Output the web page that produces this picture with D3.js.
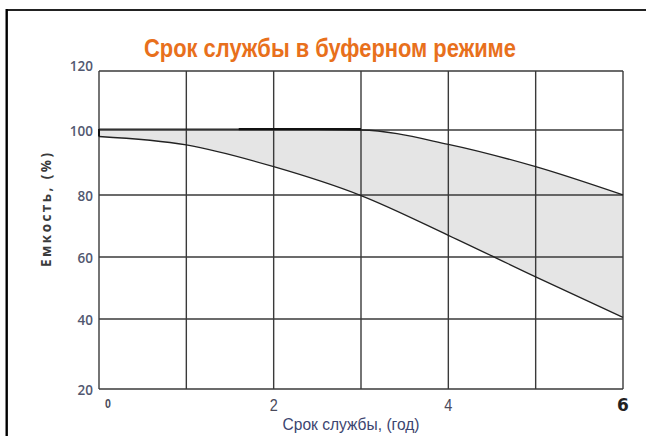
<!DOCTYPE html>
<html><head><meta charset="utf-8">
<script src="https://cdn.jsdelivr.net/npm/d3@7"></script>
<style>html,body{margin:0;padding:0;background:#fff;}svg{display:block;}</style>
</head><body>
<script>
const title = "Срок службы в буферном режиме";
const xTitle = "Срок службы, (год)";
const yTitle = "Емкость, (%)";
const xGrid = [0, 1, 2, 3, 4, 5, 6];
const xTickLabels = [0, 2, 4, 6];
const yTicks = [20, 40, 60, 80, 100, 120];
const years = [0, 1, 2, 3, 4, 5, 6];
const upperCapacity = [100.3, 100.3, 100.3, 100, 95.6, 88.7, 80];
const lowerCapacity = [98, 95.4, 88.7, 79.8, 67, 53.6, 40.5];
const boldSegment = [1.6, 3];

const W = 646, H = 436;
const svg = d3.select("body").append("svg").attr("width", W).attr("height", H);

const x = d3.scaleLinear().domain([0, 6]).range([99, 623]);
const y = d3.scaleLinear().domain(yTicks).range([389, 319, 257, 195, 130, 71]);

// outer frame
svg.append("line").attr("x1", 6.5).attr("x2", W).attr("y1", 10).attr("y2", 10)
  .attr("stroke", "#222").attr("stroke-width", 2);
svg.append("line").attr("x1", 6.7).attr("x2", 6.7).attr("y1", 9).attr("y2", H)
  .attr("stroke", "#000").attr("stroke-width", 2.4);

// title
svg.append("text").attr("x", 330).attr("y", 57)
  .attr("text-anchor", "middle")
  .attr("font-family", "'Liberation Sans Narrow', 'Liberation Sans', Arial, sans-serif")
  .attr("font-weight", "bold").attr("font-size", 25)
  .attr("fill", "#e8701c")
  .attr("textLength", 372).attr("lengthAdjust", "spacingAndGlyphs")
  .text(title);

// band
const data = years.map((t, i) => ({t, up: upperCapacity[i], lo: lowerCapacity[i]}));
const area = d3.area().x(d => x(d.t)).y0(d => y(d.lo)).y1(d => y(d.up)).curve(d3.curveMonotoneX);
svg.append("path").datum(data).attr("d", area).attr("fill", "#e5e5e5");

// grid
const g = svg.append("g");
g.selectAll(".vg").data(xGrid).enter().append("line")
  .attr("x1", d => x(d)).attr("x2", d => x(d)).attr("y1", y(120)).attr("y2", y(20))
  .attr("stroke", "#3a3a3a").attr("stroke-width", 1.4);
g.selectAll(".hg").data(yTicks).enter().append("line")
  .attr("x1", x(0)).attr("x2", x(6)).attr("y1", d => y(d)).attr("y2", d => y(d))
  .attr("stroke", "#3a3a3a").attr("stroke-width", 1.4);

// curves
const lineUp = d3.line().x(d => x(d.t)).y(d => y(d.up)).curve(d3.curveMonotoneX);
const lineLo = d3.line().x(d => x(d.t)).y(d => y(d.lo)).curve(d3.curveMonotoneX);
svg.append("path").datum(data).attr("d", lineUp).attr("fill", "none").attr("stroke", "#222").attr("stroke-width", 1.3);
svg.append("path").datum(data).attr("d", lineLo).attr("fill", "none").attr("stroke", "#222").attr("stroke-width", 1.3);
svg.append("line").attr("x1", x(boldSegment[0])).attr("x2", x(boldSegment[1]))
  .attr("y1", y(100.3)).attr("y2", y(100.3)).attr("stroke", "#111").attr("stroke-width", 2.2);
svg.append("line").attr("x1", x(0)).attr("x2", x(0)).attr("y1", y(100.3)).attr("y2", y(98))
  .attr("stroke", "#111").attr("stroke-width", 2);

// y tick labels
svg.selectAll(".yl").data(yTicks).enter().append("text")
  .attr("x", 93).attr("y", d => y(d) + (d === 120 ? -4 : 2))
  .attr("text-anchor", "end").attr("dominant-baseline", "middle")
  .attr("font-family", "'Open Sans', 'DejaVu Sans', sans-serif").attr("font-weight", "600")
  .attr("font-size", 13.5).attr("fill", "#525870")
  .text(d => d);

// y title
svg.append("text")
  .attr("transform", "translate(51,210) rotate(-90)")
  .attr("text-anchor", "middle")
  .attr("font-family", "'Open Sans', 'DejaVu Sans', sans-serif").attr("font-weight", "bold")
  .attr("font-size", 13.5).attr("fill", "#3a3a3a")
  .attr("textLength", 114).attr("lengthAdjust", "spacing")
  .text(yTitle);

// x tick labels
svg.selectAll(".xl").data(xTickLabels).enter().append("text")
  .attr("x", d => d === 0 ? x(d) + 9 : x(d))
  .attr("y", d => d === 0 ? 408 : 411)
  .attr("text-anchor", "middle")
  .attr("font-family", d => d === 6 ? "'DejaVu Sans', sans-serif" : "'Liberation Sans Narrow', 'Liberation Sans', sans-serif")
  .attr("font-weight", d => (d === 6 || d === 0) ? "bold" : "normal")
  .attr("font-size", d => d === 0 ? 12.5 : 17)
  .attr("fill", d => d === 6 ? "#222" : "#4a4a5a")
  .attr("transform", d => d === 6 ? null : `translate(${d === 0 ? x(d) + 9 : x(d)},0) scale(0.85,1) translate(${-(d === 0 ? x(d) + 9 : x(d))},0)`)
  .text(d => d);

// x title
svg.append("text").attr("x", 351).attr("y", 430)
  .attr("text-anchor", "middle")
  .attr("font-family", "'Liberation Sans Narrow', 'Liberation Sans', sans-serif")
  .attr("font-size", 17).attr("fill", "#3c4570")
  .attr("textLength", 137).attr("lengthAdjust", "spacingAndGlyphs")
  .text(xTitle);
</script>
</body></html>
